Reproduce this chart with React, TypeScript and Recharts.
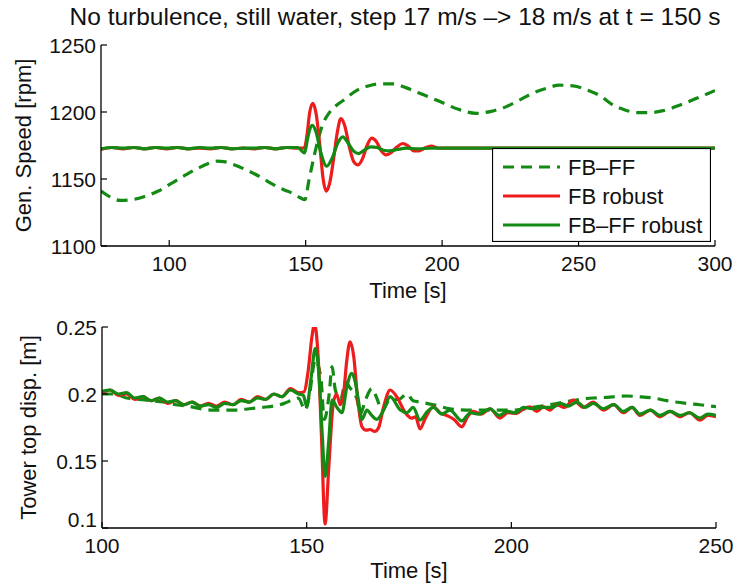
import React from 'react';
import { LineChart, Line, XAxis, YAxis, Legend } from 'recharts';

const FONT = '"Liberation Sans", Arial, sans-serif';
const RED = '#ee1c1c';
const GREEN = '#138a13';

// ---- top panel: generator speed [rpm] ----
const topXTicks = [100, 150, 200, 250, 300];
const topYTicks = [1100, 1150, 1200, 1250];

const topDashT = [75, 78, 82, 86, 91, 96, 101, 106, 111, 115, 117.5, 120, 124, 128, 133, 138, 142, 145.5, 148, 149.7, 151.2, 153.3, 156.4, 158.5, 161.3, 164, 168.6, 172.2, 177, 182, 186.9, 193, 199, 206, 212.5, 218, 223.5, 228, 233.2, 238, 243, 248, 253, 258, 262.4, 267, 272, 276, 281, 287, 293, 300];
const topDashV = [1141, 1137, 1134, 1134.5, 1137, 1141, 1147, 1153, 1158.5, 1162, 1163.3, 1163, 1160.5, 1157, 1152, 1146, 1142, 1139, 1136, 1134.5, 1149, 1169, 1191.5, 1199, 1205, 1209, 1216, 1219, 1221, 1221, 1218, 1213, 1208, 1202, 1199, 1200.5, 1204, 1208.5, 1214, 1217.5, 1220, 1219.5, 1216.5, 1212, 1205.5, 1201.5, 1199.5, 1199.5, 1201, 1205, 1210, 1216];

const topRedT = [75, 79, 83, 87, 91, 95, 99, 103, 107, 111, 115, 119, 123, 127, 131, 135, 139, 143, 147, 149.5, 150.5, 151.5, 152.6, 153.8, 155.2, 156.4, 157.5, 158.8, 160.3, 161.6, 162.9, 164.3, 166, 167.6, 169.2, 170.8, 172.5, 174.2, 175.9, 177.7, 179.5, 181.5, 183.5, 185.6, 187.6, 189.6, 191.5, 193.5, 196, 199, 203, 208, 215, 225, 240, 260, 280, 300];
const topRedV = [1172, 1173.5, 1172.5, 1173.5, 1172.5, 1173.5, 1172.5, 1173.5, 1172.5, 1173, 1172.5, 1173.5, 1172.5, 1173, 1172.5, 1173.5, 1172.5, 1173.5, 1173, 1173, 1183, 1200, 1206.5, 1199, 1175, 1150, 1141, 1147, 1166, 1185, 1195, 1190, 1174, 1163, 1160.5, 1165, 1175, 1180.5, 1178, 1171, 1168, 1170, 1174, 1176.5, 1174.5, 1171, 1171, 1173, 1174.5, 1173, 1173, 1173, 1173, 1173, 1173, 1173, 1173, 1173];

const topGreenT = [75, 79, 83, 87, 91, 95, 99, 103, 107, 111, 115, 119, 123, 127, 131, 135, 139, 143, 147, 149.6, 150.6, 151.5, 152.5, 153.8, 155.5, 157.7, 159.8, 161.8, 163.6, 165.5, 167.5, 169.4, 171.5, 173.8, 176.2, 178.5, 180.8, 183.5, 187, 191, 196, 205, 220, 240, 260, 280, 300];
const topGreenV = [1172.5, 1173.5, 1173, 1173.5, 1172.5, 1173.5, 1173, 1173.5, 1172.5, 1173.5, 1173, 1173.5, 1172.5, 1173, 1173, 1173.5, 1172.5, 1173.5, 1173.5, 1169.5, 1179, 1187, 1190, 1185, 1170, 1159.5, 1166, 1177, 1181.5, 1177, 1171, 1169, 1171.5, 1174, 1173.5, 1171.5, 1171, 1172, 1173, 1172.5, 1173, 1173, 1173, 1173, 1173, 1173, 1173];

// ---- bottom panel: tower top displacement [m] ----
const botXTicks = [100, 150, 200, 250];
const botYTicks = [0.1, 0.15, 0.2, 0.25];

const botRedT = [100, 102, 104, 106, 108, 110, 112, 114, 116, 118, 120, 122, 124, 126, 128, 130, 132, 134, 136, 138, 140, 142, 144, 146, 148, 149.3, 150.4, 151.3, 151.9, 152.8, 153.6, 154.5, 155.4, 156.5, 157.3, 158.2, 159, 159.8, 160.6, 161.5, 162.4, 163.5, 164.5, 165.5, 166.6, 167.6, 168.8, 170.4, 172, 174.1, 175.6, 176.6, 177.7, 179, 181, 182.6, 184.2, 186, 187.9, 189.3, 190.7, 192.7, 194.8, 197.2, 199.2, 201.3, 203, 204.6, 206.2, 207.8, 209.5, 211, 213, 215.1, 217.6, 220, 222.5, 225, 227.4, 229.5, 231.4, 234, 236.3, 238.8, 241.2, 243.5, 246.1, 248, 250];
const botRedV = [0.201, 0.203, 0.199, 0.2, 0.196, 0.198, 0.195, 0.197, 0.193, 0.195, 0.192, 0.194, 0.191, 0.193, 0.191, 0.194, 0.192, 0.196, 0.194, 0.198, 0.196, 0.2, 0.198, 0.204, 0.201, 0.2015, 0.218, 0.243, 0.252, 0.228, 0.17, 0.103, 0.145, 0.193, 0.2, 0.192, 0.2, 0.225, 0.239, 0.228, 0.198, 0.1756, 0.173, 0.1735, 0.172, 0.175, 0.1905, 0.203, 0.198, 0.186, 0.182, 0.183, 0.174, 0.182, 0.1905, 0.186, 0.184, 0.181, 0.1755, 0.183, 0.187, 0.185, 0.189, 0.182, 0.186, 0.1855, 0.189, 0.1905, 0.187, 0.1905, 0.188, 0.192, 0.19, 0.1955, 0.19, 0.194, 0.188, 0.192, 0.186, 0.19, 0.184, 0.188, 0.183, 0.187, 0.183, 0.186, 0.1805, 0.184, 0.183];

const botGreenT = [100, 102, 104, 106, 108, 110, 112, 114, 116, 118, 120, 122, 124, 126, 128, 130, 132, 134, 136, 138, 140, 142, 144, 146, 148, 149.2, 150, 151, 152.1, 153.1, 153.8, 154.5, 155.4, 156.2, 157.4, 158.6, 159.8, 161, 161.8, 162.6, 163.5, 164.7, 165.9, 167.1, 168.8, 170.4, 172.9, 174.5, 176, 177.7, 179.5, 181, 183, 185, 187.9, 190, 192, 194.8, 197, 199, 201, 203, 205, 207.8, 210, 212, 214, 216, 218, 220, 222.5, 225, 227.4, 229.5, 231.4, 234, 236.3, 238.8, 241.2, 243.5, 246.1, 248, 250];
const botGreenV = [0.202, 0.203, 0.2, 0.201, 0.197, 0.198, 0.195, 0.197, 0.194, 0.195, 0.192, 0.194, 0.191, 0.192, 0.19, 0.193, 0.192, 0.195, 0.194, 0.197, 0.196, 0.2, 0.198, 0.203, 0.2, 0.199, 0.1905, 0.21, 0.234, 0.21, 0.17, 0.1385, 0.165, 0.1955, 0.19, 0.186, 0.205, 0.2155, 0.21, 0.196, 0.181, 0.188, 0.184, 0.181, 0.188, 0.198, 0.188, 0.186, 0.19, 0.1805, 0.187, 0.19, 0.185, 0.188, 0.18, 0.186, 0.185, 0.189, 0.184, 0.187, 0.186, 0.19, 0.189, 0.19, 0.19, 0.193, 0.191, 0.194, 0.19, 0.193, 0.189, 0.192, 0.187, 0.19, 0.185, 0.188, 0.184, 0.187, 0.184, 0.186, 0.182, 0.185, 0.184];

const botDashT = [100, 103, 106, 109, 112, 115, 118, 121, 124, 127, 130, 133, 136, 139, 142, 144.5, 146.5, 148, 149.6, 150.6, 152.1, 153.5, 154.3, 155.5, 156.2, 157, 158.3, 159.5, 160.5, 162.3, 163.1, 164.3, 165.9, 167, 168.4, 170.4, 172.5, 174.5, 176, 177.7, 181, 185, 189, 193.1, 197, 201, 205, 209.4, 213, 216.7, 220, 223.3, 228.2, 231, 234.7, 238, 242.8, 246, 250];
const botDashV = [0.2, 0.2, 0.197, 0.196, 0.195, 0.194, 0.192, 0.191, 0.189, 0.188, 0.188, 0.188, 0.189, 0.19, 0.191, 0.193, 0.1955, 0.197, 0.188, 0.198, 0.2254, 0.211, 0.181, 0.2, 0.2204, 0.203, 0.196, 0.209, 0.205, 0.196, 0.185, 0.195, 0.204, 0.198, 0.188, 0.196, 0.196, 0.2, 0.195, 0.194, 0.192, 0.189, 0.188, 0.188, 0.188, 0.188, 0.19, 0.192, 0.194, 0.196, 0.197, 0.1975, 0.1985, 0.198, 0.197, 0.195, 0.193, 0.192, 0.1905];

const legendNames = ['FB\u2013FF', 'FB robust', 'FB\u2013FF robust'];
const legendColors = [GREEN, RED, GREEN];
const legendDash = ['11 7', undefined, undefined];

const zip = (t: number[], v: number[]) => t.map((x, i) => ({ t: x, v: v[i] }));

const BottomTick = ({ x, y, payload }: any) => (
  <g>
    <line x1={x} x2={x} y1={y} y2={y - 6} stroke="#000" strokeWidth={1.2} />
    <text x={x} y={y + 25} textAnchor="middle" fontSize={21} fontFamily={FONT} fill="#111">{payload.value}</text>
  </g>
);
const TopTick = ({ x, y }: any) => (
  <line x1={x} x2={x} y1={y} y2={y + 6} stroke="#000" strokeWidth={1.2} />
);
// lift: raise the label of the lowest tick a little (as the reference does for 0.1)
const LeftTick = ({ x, y, payload, lift }: any) => (
  <g>
    <line x1={x} x2={x + 6} y1={y} y2={y} stroke="#000" strokeWidth={1.2} />
    <text x={x - 5} y={y + 7.5 - (lift && payload.index === 0 ? 9 : 0)} textAnchor="end" fontSize={21} fontFamily={FONT} fill="#111">{payload.value}</text>
  </g>
);
const RightTick = ({ x, y }: any) => (
  <line x1={x} x2={x - 6} y1={y} y2={y} stroke="#000" strokeWidth={1.2} />
);

const LegendBox = () => (
  <svg width={219} height={94} style={{ display: 'block' }}>
    <rect x={0.5} y={0.5} width={218} height={93} fill="#fff" stroke="#000" strokeWidth={1.2} />
    {legendNames.map((name, i) => (
      <g key={name}>
        <line x1={11} x2={68} y1={19 + i * 29} y2={19 + i * 29} stroke={legendColors[i]} strokeWidth={3.2} strokeDasharray={legendDash[i]} />
        <text x={76} y={27 + i * 29} fontSize={22} fontFamily={FONT} fill="#111">{name}</text>
      </g>
    ))}
  </svg>
);

const axisLine = { stroke: '#000', strokeWidth: 1.3 };
const LW = 3.2;

export default function App() {
  return (
    <div style={{ position: 'absolute', left: 0, top: 0, width: 734, height: 585, background: '#fff' }}>
      <div style={{ position: 'absolute', left: 0, top: 0 }}>
        <LineChart width={734} height={300} margin={{ top: 45, right: 19, bottom: 0, left: 0 }}>
          <XAxis dataKey="t" type="number" domain={[75, 300]} ticks={topXTicks} interval={0} allowDataOverflow
            height={54} tickSize={0} tickMargin={0} tickLine={false} axisLine={axisLine} tick={<BottomTick />} />
          <XAxis xAxisId="top" orientation="top" dataKey="t" type="number" domain={[75, 300]} ticks={topXTicks} interval={0}
            height={0} tickSize={0} tickMargin={0} tickLine={false} axisLine={axisLine} tick={<TopTick />} />
          <YAxis type="number" domain={[1100, 1250]} ticks={topYTicks} interval={0} allowDataOverflow
            width={101} tickSize={0} tickMargin={0} tickLine={false} axisLine={axisLine} tick={<LeftTick />} />
          <YAxis yAxisId="right" orientation="right" type="number" domain={[1100, 1250]} ticks={topYTicks} interval={0}
            width={0} tickSize={0} tickMargin={0} tickLine={false} axisLine={axisLine} tick={<RightTick />} />
          <Line data={zip(topDashT, topDashV)} dataKey="v" name={legendNames[0]} type="monotone" stroke={GREEN} strokeWidth={LW} strokeDasharray="11 7" dot={false} isAnimationActive={false} />
          <Line data={zip(topRedT, topRedV)} dataKey="v" name={legendNames[1]} type="monotone" stroke={RED} strokeWidth={LW} dot={false} isAnimationActive={false} />
          <Line data={zip(topGreenT, topGreenV)} dataKey="v" name={legendNames[2]} type="monotone" stroke={GREEN} strokeWidth={LW} dot={false} isAnimationActive={false} />
          <Legend layout="vertical" align="center" verticalAlign="middle" content={<LegendBox />}
            wrapperStyle={{ position: 'absolute', left: 492, top: 148, width: 219, height: 94 }} />
        </LineChart>
      </div>
      <div style={{ position: 'absolute', left: 0, top: 300 }}>
        <LineChart width={734} height={285} margin={{ top: 27, right: 18, bottom: 0, left: 0 }}>
          <XAxis dataKey="t" type="number" domain={[100, 250]} ticks={botXTicks} interval={0} allowDataOverflow
            height={57} tickSize={0} tickMargin={0} tickLine={false} axisLine={axisLine} tick={<BottomTick />} />
          <XAxis xAxisId="top" orientation="top" dataKey="t" type="number" domain={[100, 250]} ticks={botXTicks} interval={0}
            height={0} tickSize={0} tickMargin={0} tickLine={false} axisLine={axisLine} tick={<TopTick />} />
          <YAxis type="number" domain={[0.1, 0.25]} ticks={botYTicks} interval={0} allowDataOverflow
            width={102} tickSize={0} tickMargin={0} tickLine={false} axisLine={axisLine} tick={<LeftTick lift />} />
          <YAxis yAxisId="right" orientation="right" type="number" domain={[0.1, 0.25]} ticks={botYTicks} interval={0}
            width={0} tickSize={0} tickMargin={0} tickLine={false} axisLine={axisLine} tick={<RightTick />} />
          <Line data={zip(botDashT, botDashV)} dataKey="v" type="monotone" stroke={GREEN} strokeWidth={LW} strokeDasharray="11 7" dot={false} isAnimationActive={false} />
          <Line data={zip(botRedT, botRedV)} dataKey="v" type="monotone" stroke={RED} strokeWidth={LW} dot={false} isAnimationActive={false} />
          <Line data={zip(botGreenT, botGreenV)} dataKey="v" type="monotone" stroke={GREEN} strokeWidth={LW} dot={false} isAnimationActive={false} />
        </LineChart>
      </div>
      <svg width={734} height={585} style={{ position: 'absolute', left: 0, top: 0, pointerEvents: 'none' }}>
        <g fontFamily={FONT} fill="#111">
          <text x={395} y={25} textAnchor="middle" fontSize={24.5}>No turbulence, still water, step 17 m/s {'\u2013>'} 18 m/s at t = 150 s</text>
          <text x={408} y={298} textAnchor="middle" fontSize={22}>Time [s]</text>
          <text x={409} y={578} textAnchor="middle" fontSize={22}>Time [s]</text>
          <text transform="translate(31,145.5) rotate(-90)" textAnchor="middle" fontSize={22}>Gen. Speed [rpm]</text>
          <text transform="translate(36,427.5) rotate(-90)" textAnchor="middle" fontSize={22}>Tower top disp. [m]</text>
        </g>
      </svg>
    </div>
  );
}
